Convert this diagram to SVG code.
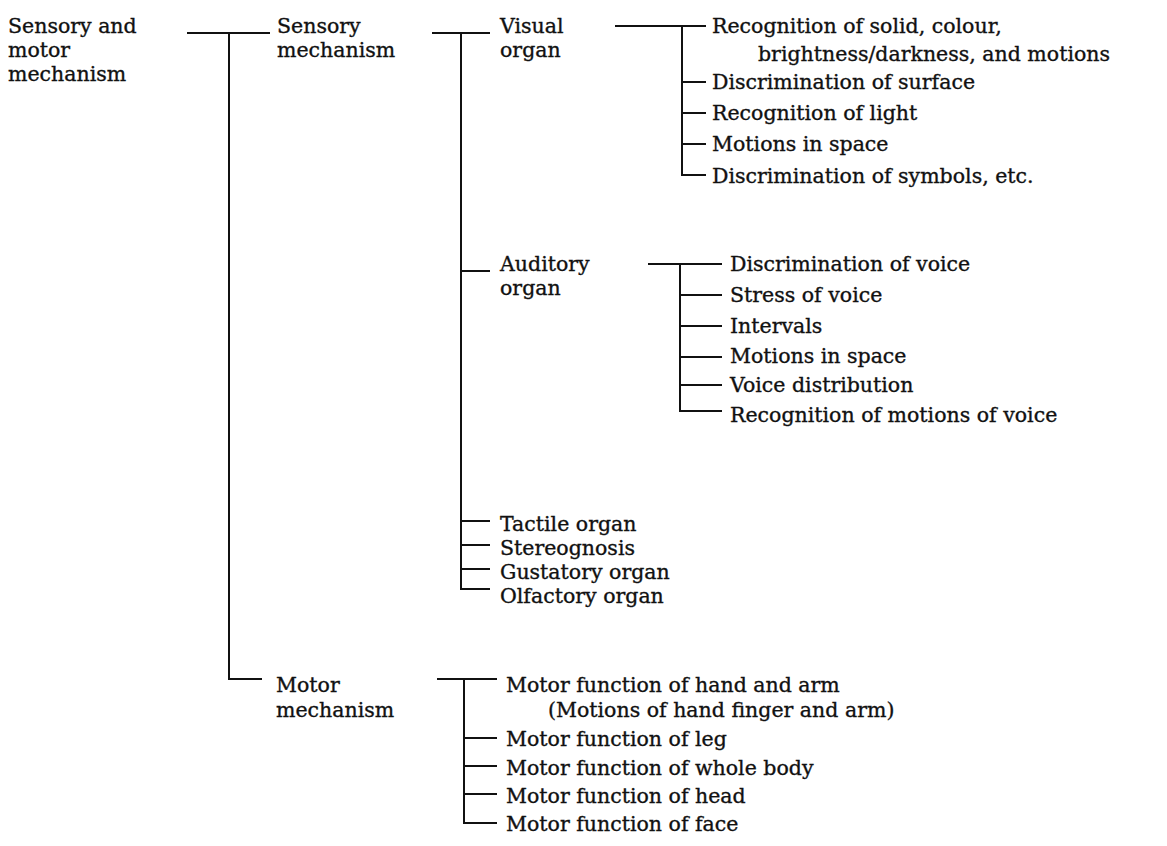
<svg xmlns="http://www.w3.org/2000/svg" width="1167" height="846" viewBox="0 0 1167 846">
  <style>
    text { font-family: "DejaVu Serif", "Liberation Serif", serif; font-size: 20.5px; fill: #111; stroke: #111; stroke-width: 0.35px; }
    .ln { stroke: #111; stroke-width: 2; fill: none; }
  </style>
  <rect width="1167" height="846" fill="#fff"/>

  <!-- tree connectors -->
  <g id="connectors">
    <path class="ln" d="M187 33 H270 M229 33 V679 H262"/>
    <path class="ln" d="M432 33 H490 M461 33 V589 H490 M461 271 H490 M461 521 H490 M461 545 H490 M461 569 H490"/>
    <path class="ln" d="M615 26 H706 M682 26 V175 H706 M682 82 H706 M682 113 H706 M682 144 H706"/>
    <path class="ln" d="M648 264 H722 M680 264 V411 H722 M680 295 H722 M680 326 H722 M680 357 H722 M680 385 H722"/>
    <path class="ln" d="M437 679 H497 M464 679 V823 H497 M464 738 H497 M464 766 H497 M464 794 H497"/>
  </g>

  <g id="root"><text x="8" y="33">Sensory and</text><text x="8" y="57">motor</text><text x="8" y="81">mechanism</text></g>
  <g id="sensory"><text x="277" y="33">Sensory</text><text x="277" y="57">mechanism</text></g>
  <g id="visual"><text x="500" y="33">Visual</text><text x="500" y="57">organ</text></g>
  <g id="visual-items">
    <text x="712" y="33">Recognition of solid, colour,</text>
    <text x="758" y="61">brightness/darkness, and motions</text>
    <text x="712" y="89">Discrimination of surface</text>
    <text x="712" y="120">Recognition of light</text>
    <text x="712" y="151">Motions in space</text>
    <text x="712" y="183">Discrimination of symbols, etc.</text>
  </g>
  <g id="auditory"><text x="500" y="271">Auditory</text><text x="500" y="295">organ</text></g>
  <g id="auditory-items">
    <text x="730" y="271">Discrimination of voice</text>
    <text x="730" y="302">Stress of voice</text>
    <text x="730" y="333">Intervals</text>
    <text x="730" y="363">Motions in space</text>
    <text x="730" y="392">Voice distribution</text>
    <text x="730" y="422">Recognition of motions of voice</text>
  </g>
  <g id="other-senses">
    <text x="500" y="531">Tactile organ</text>
    <text x="500" y="555">Stereognosis</text>
    <text x="500" y="579">Gustatory organ</text>
    <text x="500" y="603">Olfactory organ</text>
  </g>
  <g id="motor"><text x="276" y="692">Motor</text><text x="276" y="717">mechanism</text></g>
  <g id="motor-items">
    <text x="506" y="692">Motor function of hand and arm</text>
    <text x="548" y="717">(Motions of hand finger and arm)</text>
    <text x="506" y="746">Motor function of leg</text>
    <text x="506" y="775">Motor function of whole body</text>
    <text x="506" y="803">Motor function of head</text>
    <text x="506" y="831">Motor function of face</text>
  </g>
</svg>
